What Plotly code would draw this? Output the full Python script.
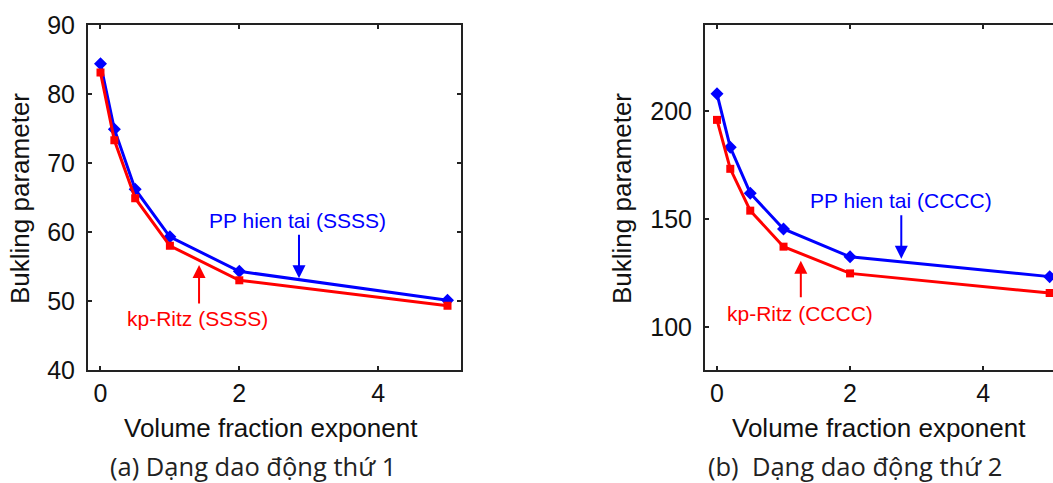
import plotly.graph_objects as go

# ---- data ----
x_vals = [0, 0.2, 0.5, 1, 2, 5]
ssss_pp = [84.4, 74.9, 66.2, 59.3, 54.3, 50.1]
ssss_ritz = [83.1, 73.3, 64.9, 58.0, 53.0, 49.3]
cccc_pp = [208.1, 183.3, 162.0, 145.4, 132.5, 123.3]
cccc_ritz = [196.0, 173.3, 153.9, 137.2, 124.8, 115.7]

left_yticks = [40, 50, 60, 70, 80, 90]
right_yticks = [100, 150, 200]
xticks = [0, 2, 4]

W, H = 1053, 483
BLUE = "#0000FF"
RED = "#FF0000"
FONT = "Liberation Sans, Arial, sans-serif"

def px(v):
    return v / W

def py(v):
    return 1 - v / H

fig = go.Figure()

# Left chart (SSSS)
fig.add_trace(go.Scatter(x=x_vals, y=ssss_pp, mode="lines+markers", xaxis="x", yaxis="y",
                         line=dict(color=BLUE, width=3),
                         marker=dict(symbol="diamond", size=10, color=BLUE), showlegend=False))
fig.add_trace(go.Scatter(x=x_vals, y=ssss_ritz, mode="lines+markers", xaxis="x", yaxis="y",
                         line=dict(color=RED, width=3),
                         marker=dict(symbol="square", size=8, color=RED), showlegend=False))
# Right chart (CCCC)
fig.add_trace(go.Scatter(x=x_vals, y=cccc_pp, mode="lines+markers", xaxis="x2", yaxis="y2",
                         line=dict(color=BLUE, width=3),
                         marker=dict(symbol="diamond", size=10, color=BLUE), showlegend=False))
fig.add_trace(go.Scatter(x=x_vals, y=cccc_ritz, mode="lines+markers", xaxis="x2", yaxis="y2",
                         line=dict(color=RED, width=3),
                         marker=dict(symbol="square", size=8, color=RED), showlegend=False))

axis_common = dict(showgrid=False, zeroline=False, showline=True, linecolor="#222", linewidth=2,
                   ticks="inside", ticklen=4, tickwidth=1.5, tickcolor="#222",
                   tickfont=dict(family=FONT, size=25, color="#111"))

ydom = [py(370), py(25)]

fig.update_layout(
    width=W, height=H, margin=dict(l=0, r=0, t=0, b=0, autoexpand=False),
    paper_bgcolor="white", plot_bgcolor="white",
    xaxis=dict(domain=[px(88), px(460.7)], range=[-0.18, 5.19], tickvals=xticks,
               mirror="ticks", anchor="y", ticklabelstandoff=0, **axis_common),
    yaxis=dict(domain=ydom, range=[40, 90], tickvals=left_yticks,
               mirror="ticks", anchor="x", ticklabelstandoff=6, **axis_common),
    xaxis2=dict(domain=[px(705), 1.0], range=[-0.18, 5.05], tickvals=xticks,
                mirror="ticks", anchor="y2", ticklabelstandoff=0, **axis_common),
    yaxis2=dict(domain=ydom, range=[80, 240], tickvals=right_yticks,
                mirror=False, anchor="x2", ticklabelstandoff=6, **axis_common),
)

ann = []
# axis titles
for cx in (271, 879):
    ann.append(dict(text="Volume fraction exponent", x=px(cx), y=py(428), xref="paper", yref="paper",
                    showarrow=False, xanchor="center", yanchor="middle",
                    font=dict(family=FONT, size=26, color="#111")))
for cx in (20, 622):
    ann.append(dict(text="Bukling parameter", x=px(cx), y=py(199), xref="paper", yref="paper",
                    showarrow=False, xanchor="center", yanchor="middle", textangle=-90,
                    font=dict(family=FONT, size=26, color="#111")))
# captions
ann.append(dict(text="(a) Dạng dao động thứ 1", x=px(253), y=py(466), xref="paper", yref="paper",
                showarrow=False, xanchor="center", yanchor="middle",
                font=dict(family="Open Sans, Noto Sans, sans-serif", size=25.5, color="#222")))
ann.append(dict(text="(b)  Dạng dao động thứ 2", x=px(855), y=py(466), xref="paper", yref="paper",
                showarrow=False, xanchor="center", yanchor="middle",
                font=dict(family="Open Sans, Noto Sans, sans-serif", size=25.5, color="#222")))

# labels
labels = [
    ("x", "y", "PP hien tai (SSSS)", 2.84, 61.7, BLUE),
    ("x", "y", "kp-Ritz (SSSS)", 1.40, 47.5, RED),
    ("x2", "y2", "PP hien tai (CCCC)", 2.76, 158.5, BLUE),
    ("x2", "y2", "kp-Ritz (CCCC)", 1.25, 106.1, RED),
]
for xr, yr, t, lx, ly, c in labels:
    ann.append(dict(text=t, x=lx, y=ly, xref=xr, yref=yr, showarrow=False,
                    xanchor="center", yanchor="middle",
                    font=dict(family=FONT, size=21, color=c)))

arrows = [
    ("x", "y", 2.86, 53.3, -45, BLUE),
    ("x", "y", 1.42, 55.2, 40, RED),
    ("x2", "y2", 2.77, 131.6, -45, BLUE),
    ("x2", "y2", 1.26, 130.7, 38, RED),
]
for xr, yr, ax_, ay_, off, c in arrows:
    ann.append(dict(text="", x=ax_, y=ay_, xref=xr, yref=yr, showarrow=True,
                    ax=0, ay=off, arrowhead=2, arrowsize=1.3, arrowwidth=2, arrowcolor=c,
                    standoff=0))

fig.update_layout(annotations=ann)
fig.write_html("out.html")
